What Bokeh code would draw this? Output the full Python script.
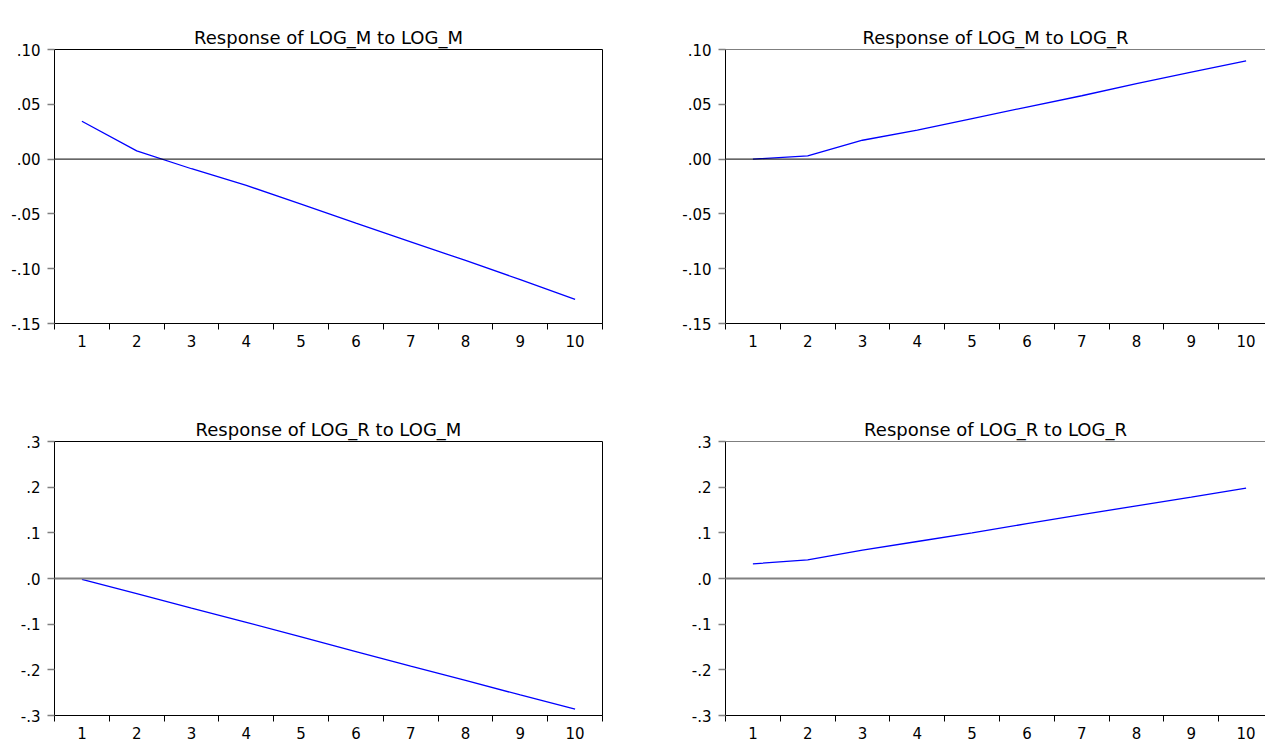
from bokeh.plotting import figure
from bokeh.layouts import column, row
from bokeh.models import Span, FixedTicker, CustomJSTickFormatter, Range1d, LinearAxis
from bokeh.embed import file_html
from bokeh.resources import INLINE

# ---- data ----
periods = [1, 2, 3, 4, 5, 6, 7, 8, 9, 10]
m_to_m = [0.0345, 0.0075, -0.0088, -0.0240, -0.0410, -0.0585, -0.0755, -0.0925, -0.1100, -0.1280]
m_to_r = [0.0000, 0.0030, 0.0172, 0.0265, 0.0370, 0.0475, 0.0578, 0.0688, 0.0793, 0.0896]
r_to_m = [-0.002, -0.033, -0.065, -0.096, -0.128, -0.160, -0.192, -0.223, -0.255, -0.286]
r_to_r = [0.032, 0.041, 0.062, 0.081, 0.100, 0.120, 0.140, 0.159, 0.178, 0.198]

titles = ["Response of LOG_M to LOG_M", "Response of LOG_M to LOG_R",
          "Response of LOG_R to LOG_M", "Response of LOG_R to LOG_R"]

top_ticks = [-0.15, -0.10, -0.05, 0.00, 0.05, 0.10]
top_labels = ["-.15", "-.10", "-.05", ".00", ".05", ".10"]
bot_ticks = [-0.3, -0.2, -0.1, 0.0, 0.1, 0.2, 0.3]
bot_labels = ["-.3", "-.2", "-.1", ".0", ".1", ".2", ".3"]
x_labels = [str(v) for v in periods]
x_bounds = [v - 0.5 for v in periods] + [periods[-1] + 0.5]

FONT = "DejaVu Sans"


def make_panel(title, ys, yticks, ylabels, width, height, mb_left, mb_right, mb_top, mb_bottom,
               x_end, right_side, zero_color, zero_width):
    p = figure(width=width, height=height, output_backend="svg", toolbar_location=None,
               x_range=Range1d(0.5, x_end), y_range=Range1d(yticks[0], yticks[-1]),
               min_border_left=mb_left, min_border_right=mb_right,
               min_border_top=mb_top, min_border_bottom=mb_bottom,
               background_fill_color="white", border_fill_color="white")
    p.grid.visible = False
    if right_side:
        p.outline_line_color = None
        p.add_layout(Span(location=yticks[-1], dimension="width", line_color="black", line_width=1))
    else:
        p.outline_line_color = "black"
        p.outline_line_width = 1

    # invisible axis above the frame acts as a spacer between frame and title
    spacer = LinearAxis(ticker=FixedTicker(ticks=[]), axis_line_color=None,
                        major_tick_line_color=None, minor_tick_line_color=None,
                        major_tick_out=19, major_tick_in=0, minor_tick_out=0, minor_tick_in=0,
                        major_label_standoff=0, major_label_text_font_size="0px")
    p.add_layout(spacer, "above")

    p.title.text = title
    p.title.align = "center"
    p.title.vertical_align = "top"
    p.title.text_font = FONT
    p.title.text_font_size = "18px"
    p.title.text_font_style = "normal"
    p.title.text_color = "black"
    p.title.standoff = 0

    # x axis: labels at periods, tick marks at bin boundaries
    xa = p.below[0]
    xa.ticker = FixedTicker(ticks=periods, minor_ticks=x_bounds)
    xa.formatter = CustomJSTickFormatter(args=dict(t=periods, l=x_labels), code="""
        for (let i = 0; i < t.length; i++) { if (Math.abs(tick - t[i]) < 1e-9) return l[i]; }
        return '';""")
    xa.major_tick_line_color = None
    xa.major_tick_out = 0
    xa.major_tick_in = 0
    xa.minor_tick_out = 6
    xa.minor_tick_in = 0
    xa.minor_tick_line_color = "black"
    xa.axis_line_color = "black"
    xa.major_label_text_font = FONT
    xa.major_label_text_font_size = "15px"
    xa.major_label_text_color = "black"
    xa.major_label_standoff = 5

    ya = p.left[0]
    ya.ticker = FixedTicker(ticks=yticks, minor_ticks=[])
    ya.formatter = CustomJSTickFormatter(args=dict(t=yticks, l=ylabels), code="""
        for (let i = 0; i < t.length; i++) { if (Math.abs(tick - t[i]) < 1e-9) return l[i]; }
        return '';""")
    ya.major_tick_out = 7
    ya.major_tick_in = 0
    ya.major_tick_line_color = "#808080"
    ya.major_tick_line_width = 1.5
    ya.minor_tick_line_color = None
    ya.axis_line_color = "black"
    ya.major_label_text_font = FONT
    ya.major_label_text_font_size = "15px"
    ya.major_label_text_color = "black"
    ya.major_label_standoff = 7

    p.add_layout(Span(location=0, dimension="width", line_color=zero_color, line_width=zero_width))
    p.line(periods, ys, line_color="#0000FF", line_width=1.3)
    return p


x_end_right = 10.354

p1 = make_panel(titles[0], m_to_m, top_ticks, top_labels, 671, 370, 54, 69, 49, 47,
                10.5, False, "black", 1)
p2 = make_panel(titles[1], m_to_r, top_ticks, top_labels, 594, 370, 54, 0, 49, 47,
                x_end_right, True, "black", 1)
p3 = make_panel(titles[2], r_to_m, bot_ticks, bot_labels, 671, 375, 54, 69, 71, 30,
                10.5, False, "#808080", 1.8)
p4 = make_panel(titles[3], r_to_r, bot_ticks, bot_labels, 594, 375, 54, 0, 71, 30,
                x_end_right, True, "#808080", 1.8)

layout = column(row(p1, p2), row(p3, p4))
open("out.html", "w").write(file_html(layout, INLINE))
